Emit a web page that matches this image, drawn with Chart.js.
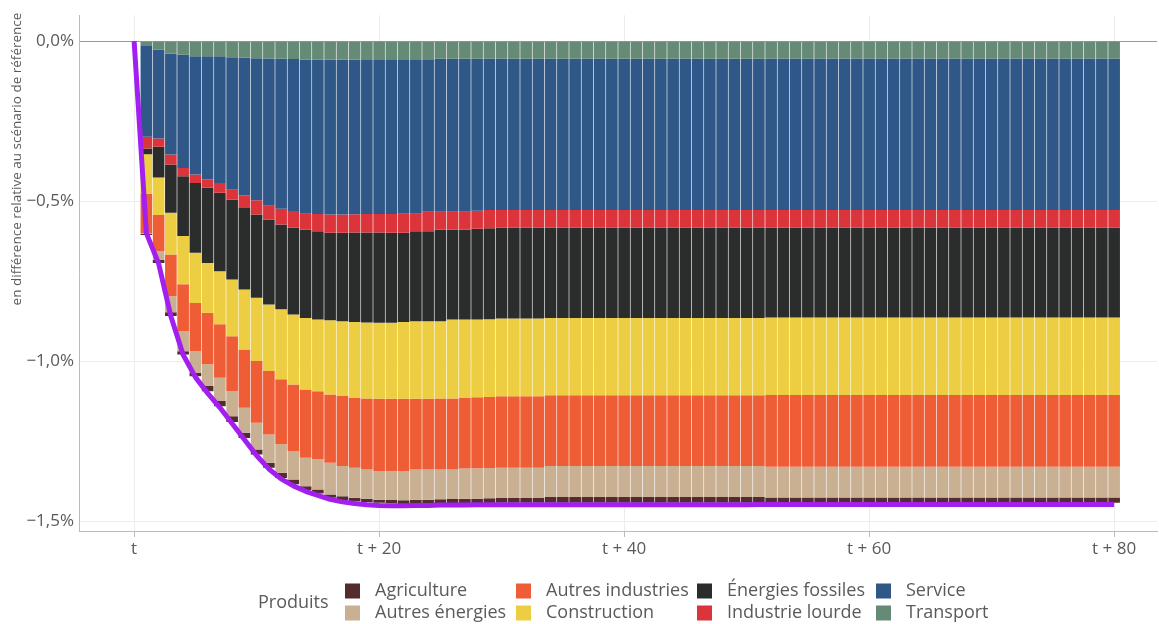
<!DOCTYPE html>
<html>
<head>
<meta charset="utf-8">
<script src="https://cdn.jsdelivr.net/npm/chart.js@4"></script>
<style>
  html, body { margin: 0; padding: 0; background: #fff; }
  #wrap { position: relative; width: 1159px; height: 624px; }
</style>
</head>
<body>
<div id="wrap"><canvas id="chart" width="1159" height="624"></canvas></div>
<script>
// years after the shock (bars), and the total line which starts at t
const years = [
  1,2,3,4,5,6,7,8,9,10, 11,12,13,14,15,16,17,18,19,20,
  21,22,23,24,25,26,27,28,29,30, 31,32,33,34,35,36,37,38,39,40,
  41,42,43,44,45,46,47,48,49,50, 51,52,53,54,55,56,57,58,59,60,
  61,62,63,64,65,66,67,68,69,70, 71,72,73,74,75,76,77,78,79,80
];
const lineYears = [0].concat(years);

const xTicks = [0, 20, 40, 60, 80];
const xTickLabels = ['t', 't + 20', 't + 40', 't + 60', 't + 80'];
const yTicks = [-1.5, -1.0, -0.5, 0];

// stacked from 0 downwards
const transport = [
  -0.013,-0.026,-0.039,-0.042,-0.047,-0.047,-0.047,-0.050,-0.052,-0.053,
  -0.054,-0.055,-0.056,-0.057,-0.057,-0.058,-0.058,-0.058,-0.059,-0.059,
  -0.059,-0.059,-0.059,-0.059,-0.055,-0.055,-0.055,-0.055,-0.055,-0.055,
  -0.055,-0.055,-0.055,-0.055,-0.055,-0.055,-0.055,-0.055,-0.055,-0.055,
  -0.055,-0.055,-0.055,-0.055,-0.055,-0.055,-0.055,-0.055,-0.055,-0.055,
  -0.055,-0.054,-0.054,-0.054,-0.054,-0.054,-0.054,-0.054,-0.054,-0.054,
  -0.054,-0.054,-0.054,-0.054,-0.054,-0.054,-0.054,-0.054,-0.054,-0.054,
  -0.054,-0.054,-0.054,-0.054,-0.054,-0.054,-0.054,-0.054,-0.054,-0.054
];
const service = [
  -0.286,-0.278,-0.315,-0.354,-0.370,-0.385,-0.396,-0.414,-0.430,-0.444,
  -0.460,-0.469,-0.475,-0.482,-0.483,-0.484,-0.484,-0.483,-0.481,-0.481,
  -0.481,-0.480,-0.480,-0.474,-0.478,-0.478,-0.478,-0.475,-0.473,-0.473,
  -0.473,-0.473,-0.473,-0.473,-0.473,-0.473,-0.473,-0.473,-0.473,-0.473,
  -0.473,-0.473,-0.473,-0.473,-0.473,-0.473,-0.473,-0.473,-0.473,-0.473,
  -0.473,-0.474,-0.474,-0.474,-0.474,-0.474,-0.474,-0.474,-0.474,-0.474,
  -0.474,-0.474,-0.474,-0.474,-0.474,-0.474,-0.474,-0.474,-0.474,-0.474,
  -0.474,-0.474,-0.474,-0.474,-0.474,-0.474,-0.474,-0.474,-0.474,-0.474
];
const industrieLourde = [
  -0.036,-0.026,-0.031,-0.026,-0.026,-0.026,-0.031,-0.031,-0.039,-0.045,
  -0.043,-0.049,-0.052,-0.050,-0.054,-0.057,-0.057,-0.057,-0.058,-0.058,
  -0.059,-0.060,-0.055,-0.061,-0.056,-0.056,-0.056,-0.056,-0.057,-0.055,
  -0.055,-0.055,-0.055,-0.055,-0.055,-0.055,-0.055,-0.055,-0.055,-0.055,
  -0.055,-0.055,-0.055,-0.055,-0.055,-0.055,-0.055,-0.055,-0.055,-0.055,
  -0.055,-0.055,-0.055,-0.055,-0.055,-0.055,-0.055,-0.055,-0.055,-0.055,
  -0.055,-0.055,-0.055,-0.055,-0.055,-0.055,-0.055,-0.055,-0.055,-0.055,
  -0.055,-0.055,-0.055,-0.055,-0.055,-0.055,-0.055,-0.055,-0.055,-0.055
];
const energiesFossiles = [
  -0.018,-0.096,-0.151,-0.187,-0.218,-0.235,-0.245,-0.250,-0.255,-0.260,
  -0.266,-0.265,-0.271,-0.276,-0.276,-0.273,-0.276,-0.280,-0.281,-0.282,
  -0.281,-0.279,-0.281,-0.281,-0.286,-0.281,-0.281,-0.284,-0.284,-0.284,
  -0.284,-0.284,-0.284,-0.282,-0.282,-0.282,-0.282,-0.282,-0.282,-0.282,
  -0.282,-0.282,-0.282,-0.282,-0.282,-0.282,-0.282,-0.282,-0.282,-0.282,
  -0.282,-0.281,-0.281,-0.281,-0.281,-0.281,-0.281,-0.281,-0.281,-0.281,
  -0.281,-0.281,-0.281,-0.281,-0.281,-0.281,-0.281,-0.281,-0.281,-0.281,
  -0.281,-0.281,-0.281,-0.281,-0.281,-0.281,-0.281,-0.281,-0.281,-0.281
];
const construction = [
  -0.124,-0.117,-0.131,-0.151,-0.157,-0.156,-0.166,-0.177,-0.188,-0.198,
  -0.208,-0.219,-0.219,-0.224,-0.224,-0.232,-0.234,-0.237,-0.238,-0.238,
  -0.238,-0.240,-0.243,-0.243,-0.242,-0.247,-0.245,-0.243,-0.243,-0.243,
  -0.243,-0.243,-0.243,-0.242,-0.242,-0.242,-0.242,-0.242,-0.242,-0.242,
  -0.242,-0.242,-0.242,-0.242,-0.242,-0.242,-0.242,-0.242,-0.242,-0.242,
  -0.242,-0.242,-0.242,-0.242,-0.242,-0.242,-0.242,-0.242,-0.242,-0.242,
  -0.242,-0.242,-0.242,-0.242,-0.242,-0.242,-0.242,-0.242,-0.242,-0.242,
  -0.242,-0.242,-0.242,-0.242,-0.242,-0.242,-0.242,-0.242,-0.242,-0.242
];
const autresIndustries = [
  -0.123,-0.113,-0.130,-0.146,-0.151,-0.161,-0.167,-0.172,-0.182,-0.193,
  -0.198,-0.203,-0.208,-0.213,-0.213,-0.214,-0.219,-0.218,-0.222,-0.226,
  -0.226,-0.226,-0.221,-0.221,-0.222,-0.222,-0.221,-0.222,-0.222,-0.223,
  -0.223,-0.223,-0.223,-0.221,-0.221,-0.221,-0.221,-0.221,-0.221,-0.221,
  -0.221,-0.221,-0.221,-0.221,-0.221,-0.221,-0.221,-0.221,-0.221,-0.221,
  -0.221,-0.224,-0.224,-0.224,-0.224,-0.224,-0.224,-0.224,-0.224,-0.224,
  -0.224,-0.224,-0.224,-0.224,-0.224,-0.224,-0.224,-0.224,-0.224,-0.224,
  -0.224,-0.224,-0.224,-0.224,-0.224,-0.224,-0.224,-0.224,-0.224,-0.224
];
const autresEnergies = [
  -0.003,-0.028,-0.050,-0.063,-0.067,-0.068,-0.073,-0.078,-0.078,-0.083,
  -0.089,-0.089,-0.089,-0.089,-0.094,-0.099,-0.094,-0.094,-0.091,-0.089,
  -0.090,-0.091,-0.094,-0.094,-0.093,-0.092,-0.094,-0.095,-0.095,-0.095,
  -0.095,-0.095,-0.095,-0.097,-0.097,-0.097,-0.097,-0.097,-0.097,-0.097,
  -0.097,-0.097,-0.097,-0.097,-0.097,-0.097,-0.097,-0.097,-0.097,-0.097,
  -0.097,-0.096,-0.096,-0.096,-0.096,-0.096,-0.096,-0.096,-0.096,-0.096,
  -0.096,-0.096,-0.096,-0.096,-0.096,-0.096,-0.096,-0.096,-0.096,-0.096,
  -0.096,-0.096,-0.096,-0.096,-0.096,-0.096,-0.096,-0.096,-0.096,-0.096
];
const agriculture = [
  -0.003,-0.009,-0.012,-0.010,-0.011,-0.016,-0.016,-0.018,-0.016,-0.016,
  -0.015,-0.016,-0.015,-0.012,-0.013,-0.010,-0.012,-0.011,-0.011,-0.010,
  -0.010,-0.012,-0.013,-0.013,-0.014,-0.015,-0.015,-0.015,-0.015,-0.015,
  -0.015,-0.015,-0.015,-0.018,-0.018,-0.018,-0.018,-0.018,-0.018,-0.018,
  -0.018,-0.018,-0.018,-0.018,-0.018,-0.018,-0.018,-0.018,-0.018,-0.018,
  -0.018,-0.017,-0.017,-0.017,-0.017,-0.017,-0.017,-0.017,-0.017,-0.017,
  -0.017,-0.017,-0.017,-0.017,-0.017,-0.017,-0.017,-0.017,-0.017,-0.017,
  -0.017,-0.017,-0.017,-0.017,-0.017,-0.017,-0.017,-0.017,-0.017,-0.017
];
// total effect (t .. t+80)
const total = [
  0,
  -0.600,-0.695,-0.860,-0.980,-1.050,-1.100,-1.145,-1.195,-1.245,-1.295,
  -1.337,-1.368,-1.390,-1.407,-1.420,-1.432,-1.440,-1.445,-1.449,-1.451,
  -1.452,-1.452,-1.451,-1.451,-1.450,-1.450,-1.450,-1.449,-1.449,-1.449,
  -1.449,-1.449,-1.449,-1.449,-1.449,-1.449,-1.449,-1.449,-1.449,-1.449,
  -1.449,-1.449,-1.449,-1.449,-1.449,-1.449,-1.449,-1.449,-1.449,-1.449,
  -1.448,-1.448,-1.448,-1.448,-1.448,-1.448,-1.448,-1.448,-1.448,-1.448,
  -1.448,-1.448,-1.448,-1.448,-1.448,-1.448,-1.448,-1.448,-1.448,-1.448,
  -1.448,-1.448,-1.448,-1.448,-1.448,-1.448,-1.448,-1.448,-1.448,-1.448
];

// stacking order (first = closest to zero)
const seriesNames = ['Transport', 'Service', 'Industrie lourde', 'Énergies fossiles',
  'Construction', 'Autres industries', 'Autres énergies', 'Agriculture'];
const seriesValues = [transport, service, industrieLourde, energiesFossiles,
  construction, autresIndustries, autresEnergies, agriculture];
const seriesColors = ['#658b77', '#2f5787', '#dc343b', '#2b2d2c',
  '#edcd41', '#ef5d36', '#c9b093', '#532c2f'];

// legend is alphabetical, two rows
const legendOrder = ['Agriculture', 'Autres énergies', 'Autres industries', 'Construction',
  'Énergies fossiles', 'Industrie lourde', 'Service', 'Transport'];

const FONT = "'Open Sans', sans-serif";
const TXT = '#5a5a5a';

const barSets = seriesNames.map((name, i) => ({
  type: 'bar',
  label: name,
  data: years.map((x, j) => ({ x: x, y: seriesValues[i][j] })),
  backgroundColor: seriesColors[i],
  borderWidth: 0,
  barPercentage: 0.95,
  categoryPercentage: 1,
  stack: 'produits',
  order: 1
}));

const lineSet = {
  type: 'line',
  label: 'Total',
  data: lineYears.map((x, j) => ({ x: x, y: total[j] })),
  borderColor: '#a21ff0',
  borderWidth: 5,
  borderJoinStyle: 'round',
  pointRadius: 0,
  fill: false,
  tension: 0,
  stack: 'total',
  order: 0
};

const extras = {
  id: 'extras',
  afterDraw(chart) {
    const ctx = chart.ctx;
    ctx.save();
    // y axis title, placed high like the original
    ctx.translate(17, 159);
    ctx.rotate(-Math.PI / 2);
    ctx.font = '13.5px ' + FONT;
    ctx.fillStyle = TXT;
    ctx.textAlign = 'center';
    ctx.textBaseline = 'middle';
    ctx.fillText('en différence relative au scénario de référence', 0, 0);
    ctx.restore();

    // legend
    ctx.save();
    ctx.font = '18px ' + FONT;
    ctx.fillStyle = TXT;
    ctx.textBaseline = 'middle';
    ctx.fillText('Produits', 258, 603);
    const colX = [345, 516, 697, 876];
    const rowY = [591, 613];
    legendOrder.forEach((name, k) => {
      const col = Math.floor(k / 2), row = k % 2;
      const idx = seriesNames.indexOf(name);
      ctx.fillStyle = seriesColors[idx];
      ctx.fillRect(colX[col], rowY[row] - 7.5, 15, 15);
      ctx.fillStyle = TXT;
      ctx.fillText(name, colX[col] + 30, rowY[row]);
    });
    ctx.restore();
  }
};

new Chart(document.getElementById('chart'), {
  data: { datasets: barSets.concat([lineSet]) },
  options: {
    responsive: false,
    animation: false,
    layout: { padding: { top: 15, right: 2, bottom: 0, left: 0 } },
    plugins: { legend: { display: false }, tooltip: { enabled: false } },
    scales: {
      x: {
        type: 'linear',
        offset: false,
        min: -4.5,
        max: 83.5,
        afterFit(scale) { scale.height = 93; },
        afterBuildTicks(scale) { scale.ticks = xTicks.map(v => ({ value: v })); },
        grid: { offset: false, color: '#ececec', drawTicks: true, tickLength: 6, tickColor: '#bbb' },
        border: { color: '#bbb' },
        ticks: {
          font: { family: FONT, size: 17 },
          color: TXT,
          padding: 2,
          maxRotation: 0,
          callback: (v) => xTickLabels[xTicks.indexOf(v)]
        }
      },
      y: {
        stacked: true,
        min: -1.531,
        max: 0.0813,
        afterFit(scale) { scale.width = 79; },
        afterBuildTicks(scale) { scale.ticks = yTicks.map(v => ({ value: v })); },
        grid: {
          drawTicks: false,
          color: (c) => c.tick && c.tick.value === 0 ? '#999' : '#ececec'
        },
        border: { color: '#bbb' },
        ticks: {
          font: { family: FONT, size: 17 },
          color: TXT,
          padding: 5,
          callback: (v) => v.toFixed(1).replace('.', ',').replace('-', '\u2212') + '%'
        }
      }
    }
  },
  plugins: [extras]
});
</script>
</body>
</html>
